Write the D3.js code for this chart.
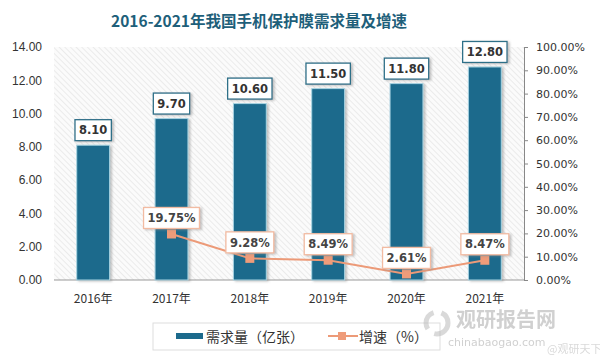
<!DOCTYPE html>
<html><head><meta charset="utf-8">
<script src="https://cdn.jsdelivr.net/npm/d3@7"></script>
<style>body{margin:0;background:#fff;}svg{display:block;}</style>
</head><body>
<svg id="c" width="600" height="358"></svg>
<script>
const categories = ["2016年","2017年","2018年","2019年","2020年","2021年"];
const demand = [8.10, 9.70, 10.60, 11.50, 11.80, 12.80];
const growth = [null, 19.75, 9.28, 8.49, 2.61, 8.47];
const leftTicks = [0,2,4,6,8,10,12,14];
const rightTicks = [0,10,20,30,40,50,60,70,80,90,100];
const title = "2016-2021年我国手机保护膜需求量及增速";
const legendLabels = ["需求量（亿张）","增速（%）"];

const svg = d3.select("#c");
const font = "'Noto Sans CJK SC','Noto Sans',sans-serif";
const M = {l:54, r:524, t:47, b:280};

const defs = svg.append("defs");
const pat = defs.append("pattern").attr("id","hatch").attr("patternUnits","userSpaceOnUse")
  .attr("width",4).attr("height",4).attr("patternTransform","rotate(-45)");
pat.append("rect").attr("width",4).attr("height",4).attr("fill","#fbfbfb");
pat.append("line").attr("x1",0).attr("y1",0).attr("x2",0).attr("y2",4).attr("stroke","#dedede").attr("stroke-width",1.1);
const f = defs.append("filter").attr("id","sh").attr("x","-20%").attr("y","-20%").attr("width","150%").attr("height","150%");
f.append("feDropShadow").attr("dx",2).attr("dy",1).attr("stdDeviation",1).attr("flood-color","#888").attr("flood-opacity",0.5);

const x = d3.scaleBand().domain(categories).range([M.l, M.r]).paddingInner(0.58).paddingOuter(0.29);
const yL = d3.scaleLinear().domain([0,14]).range([M.b, M.t]);
const yR = d3.scaleLinear().domain([0,100]).range([M.b, M.t]);

// title
svg.append("text").attr("x",259).attr("y",27).attr("text-anchor","middle")
  .attr("font-family",font).attr("font-weight","bold").attr("font-size",15.5)
  .attr("fill","#1e5f7a").text(title);

// plot area hatch
svg.append("rect").attr("x",M.l).attr("y",M.t).attr("width",M.r-M.l).attr("height",M.b-M.t).attr("fill","url(#hatch)");

// left axis
const gl = svg.append("g").attr("transform",`translate(${M.l},0)`)
  .call(d3.axisLeft(yL).tickValues(leftTicks).tickFormat(d3.format(".2f")).tickSize(0).tickPadding(12));
gl.select(".domain").remove();
gl.selectAll("text").attr("font-family","'Liberation Sans',Arial,sans-serif").attr("font-size",12).attr("fill","#333");

// right axis
const gr = svg.append("g").attr("transform",`translate(${M.r},0)`)
  .call(d3.axisRight(yR).tickValues(rightTicks).tickFormat(d=>d.toFixed(2)+"%").tickSize(4).tickPadding(8));
gr.select(".domain").attr("stroke","#888");
gr.selectAll(".tick line").attr("stroke","#888");
gr.selectAll("text").attr("font-family","'DejaVu Sans',Verdana,sans-serif").attr("font-size",11).attr("fill","#333");

// baseline
svg.append("line").attr("x1",M.l).attr("x2",M.r).attr("y1",M.b).attr("y2",M.b).attr("stroke","#999").attr("stroke-width",1.2);

// x axis labels
const gx = svg.append("g").attr("transform",`translate(0,${M.b})`)
  .call(d3.axisBottom(x).tickSize(0).tickPadding(14));
gx.select(".domain").remove();
gx.selectAll("text").attr("font-family",font).attr("font-size",12).attr("fill","#333");

// bars
svg.append("g").selectAll("rect").data(demand).join("rect")
  .attr("x",(d,i)=>x(categories[i])).attr("width",x.bandwidth())
  .attr("y",d=>yL(d)).attr("height",d=>yL(0)-yL(d))
  .attr("fill","#1c6a8c").attr("stroke","#a9d4e2").attr("stroke-width",1)
  .attr("filter","url(#sh)");

function boxLabel(g, stroke, color){
  const r = g.append("rect").attr("fill","#fff").attr("stroke",stroke).attr("stroke-width",1.3).attr("filter","url(#sh)");
  const t = g.append("text").attr("text-anchor","middle").attr("dy","0.36em")
    .attr("font-family","'DejaVu Sans',Verdana,sans-serif").attr("font-weight","bold").attr("font-size",11.5)
    .attr("fill",color);
  return [r,t];
}

// bar labels
const bl = svg.append("g").selectAll("g").data(demand).join("g")
  .attr("transform",(d,i)=>`translate(${x(categories[i])+x.bandwidth()/2},${yL(d)-15})`);
bl.each(function(d){
  const [r,t] = boxLabel(d3.select(this), "#2e6f88", "#333");
  t.text(d.toFixed(2));
  const w = t.node().getComputedTextLength()+8;
  r.attr("x",-w/2).attr("y",-10.5).attr("width",w).attr("height",21);
});

// growth line
const gdata = growth.map((v,i)=>({v,c:categories[i]})).filter(d=>d.v!==null);
const cx = d=>x(d.c)+x.bandwidth()/2;
svg.append("path").datum(gdata)
  .attr("d",d3.line().x(cx).y(d=>yR(d.v)))
  .attr("fill","none").attr("stroke","#ec9a78").attr("stroke-width",2);
svg.append("g").selectAll("rect").data(gdata).join("rect")
  .attr("x",d=>cx(d)-4.5).attr("y",d=>yR(d.v)-4.5).attr("width",9).attr("height",9)
  .attr("fill","#ef9c7a");

// growth labels
const gl2 = svg.append("g").selectAll("g").data(gdata).join("g")
  .attr("transform",d=>`translate(${cx(d)},${yR(d.v)-16})`);
gl2.each(function(d){
  const [r,t] = boxLabel(d3.select(this), "#f2bba2", "#444");
  t.text(d.v.toFixed(2)+"%");
  const w = t.node().getComputedTextLength()+8;
  r.attr("x",-w/2).attr("y",-10.5).attr("width",w).attr("height",21);
});

// legend
const lg = svg.append("g");
lg.append("rect").attr("x",153).attr("y",323).attr("width",287).attr("height",27)
  .attr("fill","#fff").attr("stroke","#ddd");
lg.append("rect").attr("x",176).attr("y",333).attr("width",27).attr("height",6).attr("fill","#1c6a8c");
lg.append("text").attr("x",206).attr("y",337).attr("dy","0.36em").attr("font-family",font)
  .attr("font-size",14).attr("fill","#333").text(legendLabels[0]);
lg.append("line").attr("x1",328).attr("x2",358).attr("y1",336).attr("y2",336).attr("stroke","#ec9a78").attr("stroke-width",2);
lg.append("rect").attr("x",338).attr("y",332).attr("width",8).attr("height",8).attr("fill","#ef9c7a");
lg.append("text").attr("x",359).attr("y",337).attr("dy","0.36em").attr("font-family",font)
  .attr("font-size",14).attr("fill","#333").text(legendLabels[1]);

// watermark
const wm = svg.append("g").attr("opacity",0.55);
wm.append("circle").attr("cx",437).attr("cy",323).attr("r",11).attr("fill","none").attr("stroke","#bbb").attr("stroke-width",5).attr("stroke-dasharray","20 8");
wm.append("text").attr("x",456).attr("y",327).attr("font-family",font).attr("font-weight","bold")
  .attr("font-size",20).attr("fill","#aaa").text("观研报告网");
wm.append("text").attr("x",448).attr("y",346).attr("font-family","'DejaVu Sans',sans-serif")
  .attr("font-size",11).attr("fill","#aaa").text("chinabaogao.com");
wm.append("text").attr("x",547).attr("y",353).attr("font-family",font)
  .attr("font-size",11).attr("fill","#bbb").text("@观研天下");
</script>
</body></html>
